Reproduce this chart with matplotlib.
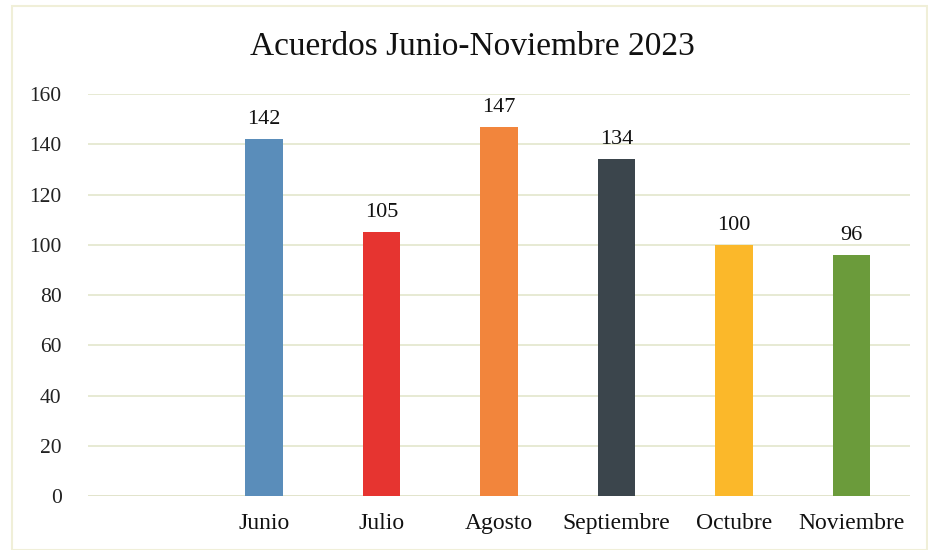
import matplotlib
matplotlib.use("Agg")
import matplotlib.pyplot as plt
from matplotlib.patches import Rectangle

categories = ["Junio", "Julio", "Agosto", "Septiembre", "Octubre", "Noviembre"]
values = [142, 105, 147, 134, 100, 96]
colors = ["#5a8dba", "#e63430", "#f2853c", "#3b454c", "#fbb82a", "#6b9b3b"]
yticks = [0, 20, 40, 60, 80, 100, 120, 140, 160]
title = "Acuerdos Junio-Noviembre 2023"

plt.rcParams['font.family'] = ['Liberation Serif', 'DejaVu Serif']

fig = plt.figure(figsize=(9.29, 5.5), dpi=100)
ax = fig.add_axes([0.0947, 0.098, 0.885, 0.731])

x = list(range(len(categories)))
bars = ax.bar(x, values, width=0.32, color=colors, zorder=3)
for b, v in zip(bars, values):
    ax.text(b.get_x() + b.get_width() / 2, v + 4, str(v), ha="center", va="bottom",
            fontsize=16, color="#111111")

ax.set_xlim(-1.5, len(categories) - 0.5)
ax.set_ylim(0, 160)
ax.set_yticks(yticks)
ax.set_yticklabels([str(t) for t in yticks], fontsize=15.5, color="#222222")
ax.set_xticks(x)
ax.set_xticklabels(categories, fontsize=17, color="#111111")
ax.tick_params(axis="both", length=0)
ax.tick_params(axis="y", pad=19)
ax.tick_params(axis="x", pad=12)
ax.grid(axis="y", color="#e3e6cc", linewidth=1.2, zorder=0)
for s in ax.spines.values():
    s.set_visible(False)
ax.axhline(0, color="#d8d8c8", linewidth=1.2, zorder=1)

fig.text(0.508, 0.915, title, ha="center", va="center", fontsize=24, color="#111111")

fig.patches.append(Rectangle((0.013, 0.0), 0.985, 0.99, transform=fig.transFigure,
                             fill=False, edgecolor="#f0efd8", linewidth=1.5))

fig.savefig("out.png", dpi=100)
